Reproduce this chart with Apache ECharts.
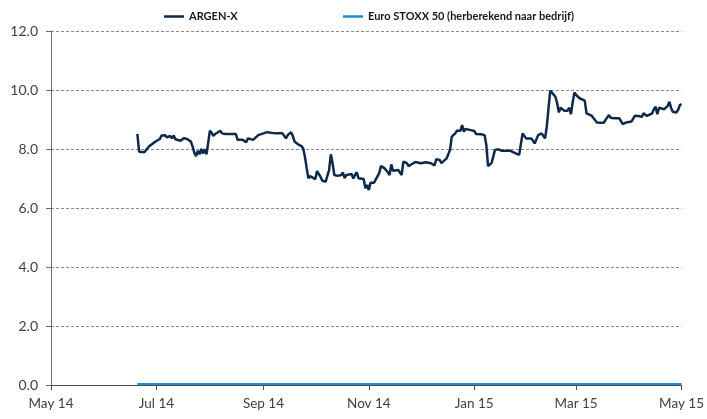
<!DOCTYPE html>
<html>
<head>
<meta charset="utf-8">
<script src="https://cdn.jsdelivr.net/npm/echarts@6/dist/echarts.min.js"></script>
<style>
html,body{margin:0;padding:0;background:#fff;}
#chart{width:707px;height:419px;}
</style>
</head>
<body>
<div id="chart"></div>
<script>
const seriesNames = ['ARGEN-X', 'Euro STOXX 50 (herberekend naar bedrijf)'];

const argenDates = [
'2014-06-20','2014-06-21','2014-06-22','2014-06-24','2014-06-25','2014-06-27','2014-06-29',
'2014-07-01','2014-07-03','2014-07-04','2014-07-05','2014-07-06','2014-07-07','2014-07-09','2014-07-10','2014-07-11','2014-07-12','2014-07-13','2014-07-15','2014-07-16','2014-07-17','2014-07-19','2014-07-21','2014-07-22','2014-07-23','2014-07-24','2014-07-25','2014-07-26','2014-07-27','2014-07-28','2014-07-29','2014-07-30','2014-07-31',
'2014-08-01','2014-08-02','2014-08-03','2014-08-04','2014-08-05','2014-08-07','2014-08-08','2014-08-09','2014-08-10','2014-08-12','2014-08-16','2014-08-17','2014-08-18','2014-08-20','2014-08-22','2014-08-23','2014-08-24','2014-08-26','2014-08-27','2014-08-29','2014-08-30',
'2014-09-01','2014-09-03','2014-09-04','2014-09-08','2014-09-12','2014-09-14','2014-09-15','2014-09-17','2014-09-18','2014-09-19','2014-09-21','2014-09-23','2014-09-24','2014-09-25','2014-09-26','2014-09-27','2014-09-28','2014-09-29',
'2014-10-01','2014-10-02','2014-10-04','2014-10-05','2014-10-07','2014-10-09','2014-10-10','2014-10-11','2014-10-12','2014-10-14','2014-10-16','2014-10-17','2014-10-18','2014-10-19','2014-10-20','2014-10-22','2014-10-23','2014-10-24','2014-10-25','2014-10-26','2014-10-27','2014-10-29','2014-10-30','2014-10-31',
'2014-11-01','2014-11-02','2014-11-03','2014-11-04','2014-11-05','2014-11-07','2014-11-08','2014-11-10','2014-11-12','2014-11-13','2014-11-14','2014-11-15','2014-11-16','2014-11-18','2014-11-19','2014-11-20','2014-11-21','2014-11-23','2014-11-24','2014-11-25','2014-11-26','2014-11-28','2014-11-29',
'2014-12-01','2014-12-02','2014-12-04','2014-12-05','2014-12-07','2014-12-08','2014-12-09','2014-12-10','2014-12-12','2014-12-13','2014-12-14','2014-12-16','2014-12-17','2014-12-18','2014-12-19','2014-12-21','2014-12-22','2014-12-23','2014-12-24','2014-12-25','2014-12-26','2014-12-27','2014-12-30',
'2015-01-01','2015-01-02','2015-01-03','2015-01-05','2015-01-07','2015-01-08','2015-01-09','2015-01-10','2015-01-11','2015-01-12','2015-01-13','2015-01-14','2015-01-15','2015-01-17','2015-01-18','2015-01-20','2015-01-22','2015-01-23','2015-01-25','2015-01-27','2015-01-28','2015-01-29','2015-01-30','2015-01-31',
'2015-02-01','2015-02-03','2015-02-04','2015-02-05','2015-02-06','2015-02-07','2015-02-09','2015-02-10','2015-02-11','2015-02-12','2015-02-13','2015-02-14','2015-02-15','2015-02-17','2015-02-18','2015-02-19','2015-02-20','2015-02-21','2015-02-22','2015-02-23','2015-02-24','2015-02-25','2015-02-26','2015-02-27','2015-02-28',
'2015-03-01','2015-03-02','2015-03-03','2015-03-04','2015-03-06','2015-03-07','2015-03-08','2015-03-10','2015-03-11','2015-03-13','2015-03-15','2015-03-17','2015-03-18','2015-03-19','2015-03-20','2015-03-21','2015-03-23','2015-03-24','2015-03-26','2015-03-27','2015-03-28','2015-03-29','2015-03-30','2015-03-31',
'2015-04-02','2015-04-03','2015-04-04','2015-04-05','2015-04-06','2015-04-08','2015-04-09','2015-04-10','2015-04-11','2015-04-12','2015-04-14','2015-04-15','2015-04-16','2015-04-17','2015-04-18','2015-04-19','2015-04-21','2015-04-22','2015-04-23','2015-04-24','2015-04-25','2015-04-26','2015-04-28','2015-04-29','2015-04-30',
'2015-05-01'
];

const argenValues = [
8.51,7.91,7.85,7.89,7.94,8.10,8.19,
8.27,8.34,8.46,8.40,8.47,8.40,8.44,8.36,8.46,8.33,8.33,8.28,8.31,8.37,8.33,8.25,8.08,7.87,7.76,7.94,7.82,8.00,7.85,7.99,7.82,7.85,
8.62,8.55,8.44,8.51,8.55,8.62,8.53,8.58,8.51,8.51,8.51,8.31,8.28,8.31,8.23,8.36,8.38,8.31,8.33,8.47,8.50,
8.53,8.57,8.53,8.53,8.53,8.36,8.47,8.57,8.44,8.25,8.16,8.10,8.02,7.74,7.35,7.01,7.08,7.03,
6.98,7.25,7.06,6.93,6.89,7.29,7.82,7.52,7.12,7.09,7.12,7.20,7.01,7.12,7.15,7.15,7.00,7.12,7.21,7.01,7.03,6.98,6.67,6.78,
6.61,6.86,6.89,6.86,6.81,7.18,7.42,7.35,7.21,7.12,7.48,7.26,7.29,7.29,7.26,7.12,7.57,7.52,7.42,7.38,7.49,7.56,7.52,
7.52,7.52,7.55,7.49,7.52,7.48,7.44,7.65,7.63,7.52,7.57,7.68,7.74,7.97,8.42,8.53,8.62,8.67,8.62,8.81,8.59,8.68,8.64,
8.61,8.51,8.47,8.50,8.47,8.14,7.42,7.46,7.52,7.74,7.97,7.91,7.99,7.94,7.91,7.94,7.94,7.91,7.85,7.80,7.76,8.53,8.55,8.36,
8.40,8.36,8.28,8.19,8.14,8.47,8.53,8.55,8.36,8.76,9.38,9.98,9.94,9.77,9.55,9.24,9.40,9.43,9.30,9.35,9.30,9.40,9.18,9.58,9.92,
9.83,9.77,9.72,9.77,9.64,9.21,9.15,9.13,9.09,8.90,8.89,8.89,8.93,9.07,9.15,9.06,9.04,9.01,9.04,9.01,8.84,8.87,8.90,8.93,
8.93,8.98,9.13,9.09,9.12,9.09,9.21,9.15,9.12,9.15,9.21,9.35,9.43,9.18,9.40,9.40,9.35,9.32,9.46,9.60,9.38,9.26,9.24,9.32,9.49,
9.52
];

const stoxxDates = ['2014-06-20','2014-08-01','2014-10-01','2014-12-01','2015-02-01','2015-04-01','2015-05-01'];
const stoxxValues = [0.03,0.03,0.03,0.03,0.03,0.03,0.03];

const yTicks = [0, 2, 4, 6, 8, 10, 12];
const monthNames = ['Jan','Feb','Mar','Apr','May','Jun','Jul','Aug','Sep','Oct','Nov','Dec'];

const zip = (a, b) => a.map((d, i) => [d, b[i]]);

const FONT = 'Lato, "Open Sans", sans-serif';
const chart = echarts.init(document.getElementById('chart'), null, {renderer: 'canvas'});
chart.setOption({
  animation: false,
  backgroundColor: '#ffffff',
  textStyle: {fontFamily: FONT},
  legend: [
    {
      data: [seriesNames[0]], left: 159, top: 6,
      icon: 'rect', itemWidth: 20, itemHeight: 2.5,
      textStyle: {fontFamily: FONT, fontWeight: 'bold', fontSize: 11, color: '#1a1a1a'}
    },
    {
      data: [seriesNames[1]], left: 338, top: 6,
      icon: 'rect', itemWidth: 20, itemHeight: 2.5,
      textStyle: {fontFamily: FONT, fontWeight: 'bold', fontSize: 11, color: '#1a1a1a'}
    }
  ],
  grid: {left: 51, right: 23, top: 31, bottom: 34, containLabel: false},
  xAxis: {
    type: 'time',
    min: '2014-05-01',
    max: '2015-05-01',
    splitNumber: 6,
    axisLine: {show: true, lineStyle: {color: '#4d4d4d', width: 1}},
    axisTick: {show: true, length: 5, lineStyle: {color: '#4d4d4d'}},
    splitLine: {show: false},
    axisLabel: {
      show: true, margin: 12, fontSize: 13.5, color: '#404040', fontFamily: FONT,
      showMinLabel: true, showMaxLabel: true, hideOverlap: false,
      formatter: function (val) {
        const d = new Date(val);
        return monthNames[d.getMonth()] + ' ' + String(d.getFullYear()).slice(2);
      }
    }
  },
  yAxis: {
    type: 'value',
    min: yTicks[0],
    max: yTicks[yTicks.length - 1],
    interval: 2,
    axisLine: {show: true, lineStyle: {color: '#6b6b6b', width: 1}},
    axisTick: {show: true, length: 5, lineStyle: {color: '#6b6b6b'}},
    splitLine: {show: true, lineStyle: {color: '#8a8a8a', type: [3, 2], width: 1}},
    axisLabel: {
      margin: 13, fontSize: 14, color: '#404040', fontFamily: FONT,
      formatter: v => v.toFixed(1)
    }
  },
  series: [
    {
      name: seriesNames[0], type: 'line', data: zip(argenDates, argenValues),
      showSymbol: false, symbol: 'none',
      lineStyle: {color: '#0d2a4b', width: 2.5},
      itemStyle: {color: '#0d2a4b'},
      z: 3
    },
    {
      name: seriesNames[1], type: 'line', data: zip(stoxxDates, stoxxValues),
      showSymbol: false, symbol: 'none',
      lineStyle: {color: '#1f8bd2', width: 2},
      itemStyle: {color: '#1f8bd2'},
      z: 4
    }
  ]
});
</script>
</body>
</html>
